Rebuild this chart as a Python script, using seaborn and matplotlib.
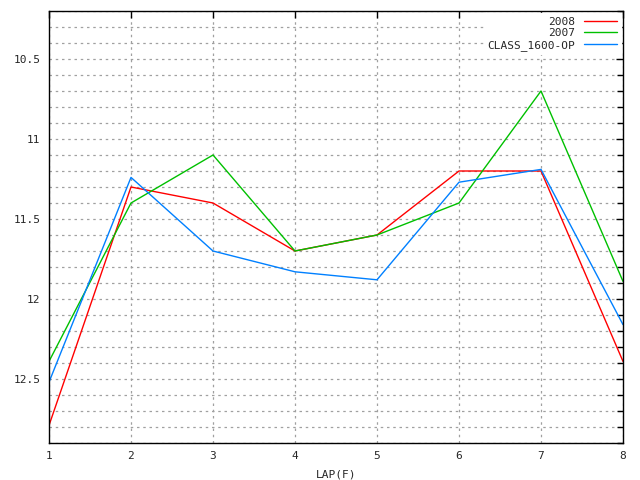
import pandas as pd
import matplotlib
matplotlib.use("Agg")
import matplotlib.pyplot as plt
import seaborn as sns
from matplotlib.ticker import MultipleLocator

laps = [1, 2, 3, 4, 5, 6, 7, 8]
series_names = ["2008", "2007", "CLASS_1600-OP"]
vals_2008 = [12.79, 11.30, 11.40, 11.70, 11.60, 11.20, 11.20, 12.39]
vals_2007 = [12.39, 11.40, 11.10, 11.70, 11.60, 11.40, 10.70, 11.89]
vals_class = [12.52, 11.24, 11.70, 11.83, 11.88, 11.27, 11.19, 12.16]
colors = ["#ff0000", "#00c000", "#0080ff"]

# long format for seaborn
df = pd.DataFrame({
    "lap": laps * 3,
    "value": vals_2008 + vals_2007 + vals_class,
    "series": [series_names[0]] * 8 + [series_names[1]] * 8 + [series_names[2]] * 8,
})

sns.set_style("white")
plt.rcParams['font.family'] = ['DejaVu Sans Mono']

fig = plt.figure(figsize=(6.4, 4.8), dpi=100)
ax = fig.add_axes([49 / 640, 1 - 443 / 480, (623 - 49) / 640, (443 - 11) / 480])

sns.lineplot(data=df, x="lap", y="value", hue="series", hue_order=series_names,
             palette=colors, linewidth=1.0, ax=ax)

ax.set_xlim(1, 8)
ax.set_ylim(12.9, 10.2)
ax.xaxis.set_major_locator(MultipleLocator(1))
ax.yaxis.set_minor_locator(MultipleLocator(0.1))
ax.set_yticks([10.5, 11, 11.5, 12, 12.5])
ax.set_yticklabels(["10.5", "11", "11.5", "12", "12.5"])

ax.grid(True, which="both", axis="y", color="#a0a0a0", linestyle=(0, (2, 3)), linewidth=0.9)
ax.grid(True, which="major", axis="x", color="#a0a0a0", linestyle=(0, (2, 3)), linewidth=0.9)
ax.set_axisbelow(True)

ax.tick_params(which="both", direction="in", top=True, right=True,
               labelsize=8, color="black", pad=6)
ax.tick_params(which="major", length=5, width=1)
ax.tick_params(which="minor", length=4, width=1)
for s in ax.spines.values():
    s.set_color("black")
    s.set_linewidth(1)

ax.set_xlabel("LAP(F)", fontsize=8, labelpad=6)
ax.set_ylabel("")

leg = ax.legend(loc="upper right", markerfirst=False, frameon=True, fontsize=8,
                handlelength=3.0, handletextpad=0.8, labelspacing=0.15,
                borderaxespad=0.2, borderpad=0.3)
leg.get_frame().set_edgecolor("white")
leg.get_frame().set_facecolor("white")
leg.get_frame().set_alpha(1)

fig.savefig("out.png", dpi=100)
